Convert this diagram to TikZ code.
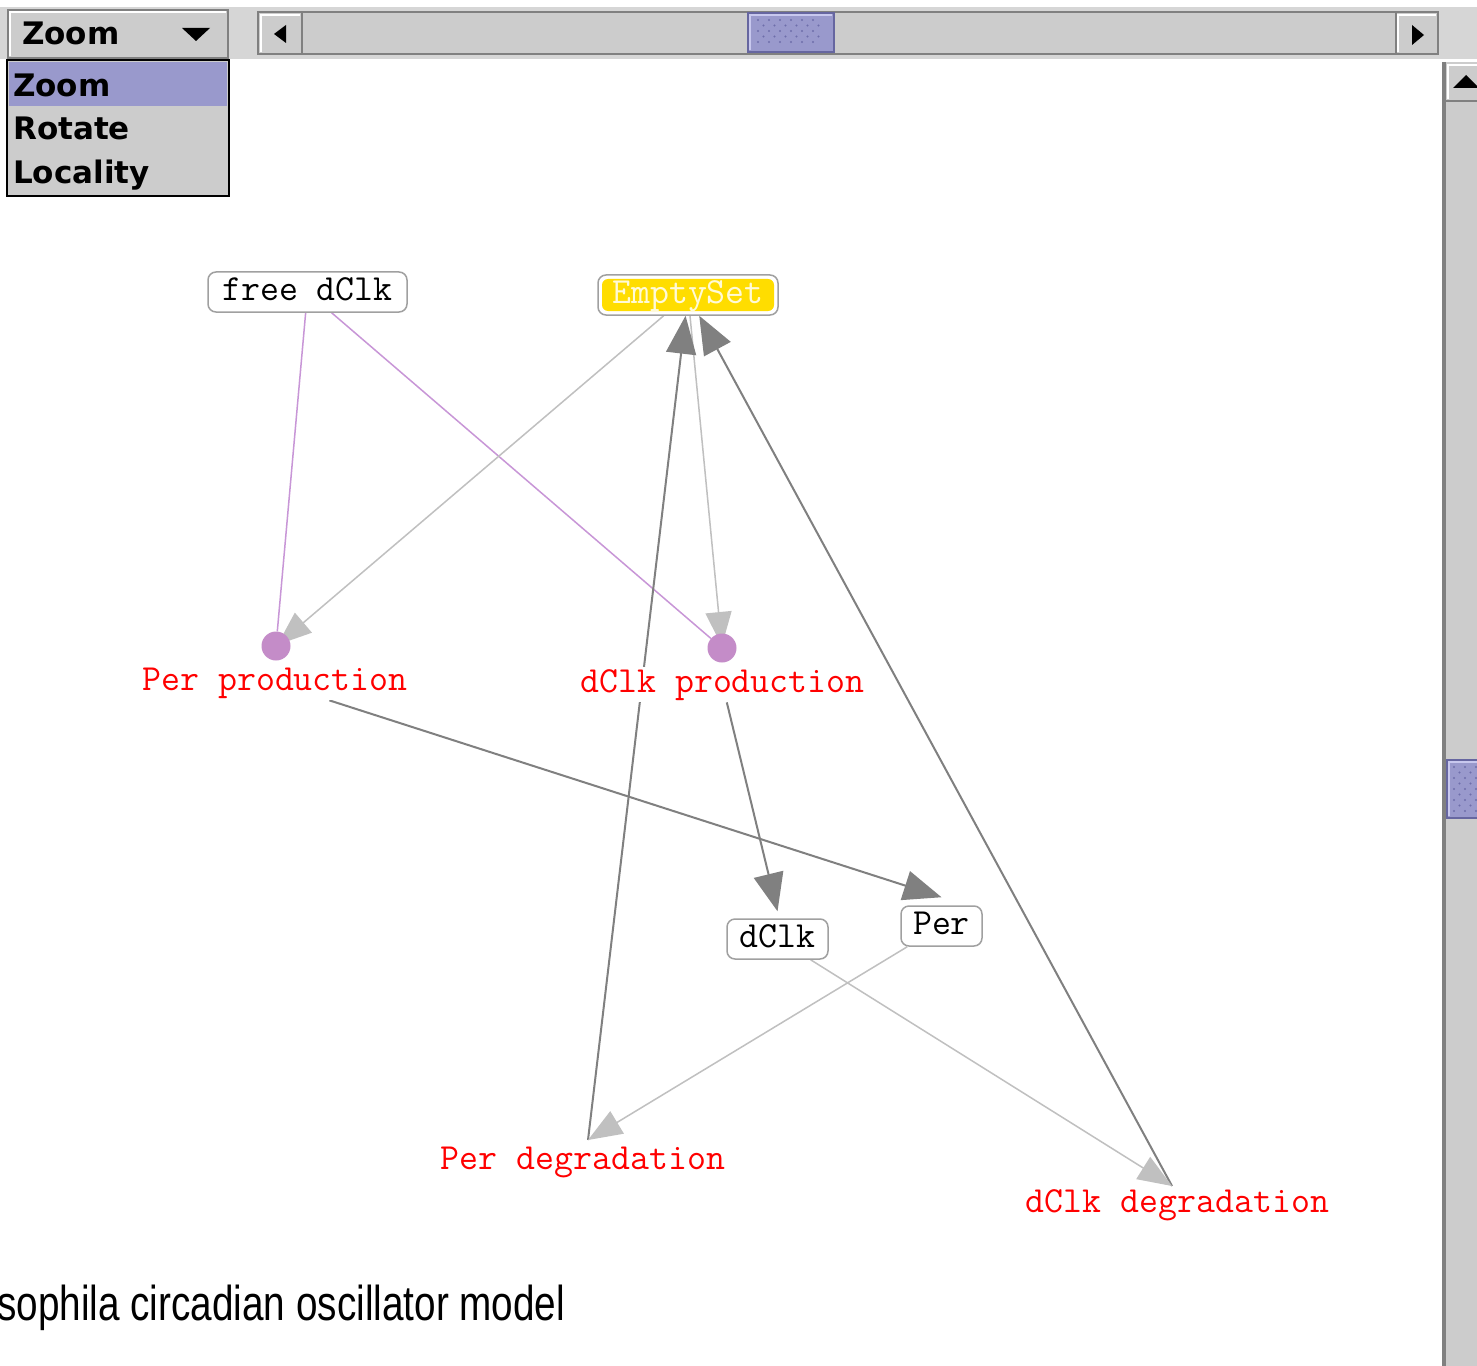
\documentclass[tikz,border=0pt]{standalone}
\usepackage{fontspec}
\usetikzlibrary{arrows.meta}
\newfontfamily\uifont{DejaVu Sans}
\newfontfamily\capfont[FakeStretch=0.79]{Liberation Sans}
\newcommand{\monolabel}{\ttfamily\fontsize{36.8bp}{44bp}\selectfont}
\newcommand{\uilabel}{\uifont\bfseries\fontsize{31bp}{36bp}\selectfont}
\definecolor{uigray}{RGB}{204,204,204}
\definecolor{bandgray}{RGB}{214,214,214}
\definecolor{selblue}{RGB}{153,153,204}
\definecolor{selborder}{RGB}{102,102,160}
\definecolor{selhi}{RGB}{200,200,238}
\definecolor{dotblue}{RGB}{110,110,170}
\definecolor{edgedark}{RGB}{128,128,128}
\definecolor{edgelight}{RGB}{192,192,192}
\definecolor{edgepurple}{RGB}{200,150,215}
\definecolor{circpurple}{RGB}{196,140,200}
\definecolor{boxborder}{RGB}{160,160,160}
\definecolor{esyellow}{RGB}{255,221,0}
\definecolor{estext}{RGB}{255,250,215}
\definecolor{labelred}{RGB}{255,0,0}
\pgfdeclarelayer{bg}
\pgfdeclarelayer{edges}
\pgfsetlayers{bg,edges,main}
\tikzset{
  species/.style={draw=boxborder, line width=1.5bp, fill=white, rounded corners=8bp,
    font=\monolabel, text height=22bp, text depth=6bp, inner xsep=0bp, inner ysep=6bp,
    minimum height=40bp},
  reaction/.style={circle, fill=circpurple, minimum size=29bp, inner sep=0bp},
  rlabel/.style={font=\monolabel, text=labelred, fill=white, inner sep=2bp, anchor=base},
  darkedge/.style={draw=edgedark, line width=2bp, -{Triangle[length=38bp,width=30bp]}},
  lightedge/.style={draw=edgelight, line width=1.5bp, -{Triangle[length=34bp,width=26bp]}},
  purpleedge/.style={draw=edgepurple, line width=1.5bp},
  uitext/.style={font=\uilabel, text=black, inner sep=0bp, anchor=base west},
  thumb/.style={fill=selblue, draw=selborder, line width=1.5bp},
}
\begin{document}
\begin{tikzpicture}[x=1bp,y=-1bp]
\clip (0,0) rectangle (1477,1366);
\begin{pgfonlayer}{bg}
\fill[white] (0,0) rectangle (1477,1366);
\end{pgfonlayer}

% ---- top band ----
\fill[bandgray] (0,7) rectangle (1477,59);

% ---- combo box ----
\fill[uigray] (9,11) rectangle (227,57);
\draw[white, line width=2bp] (10,56) -- (10,12) -- (226,12);
\draw[edgedark, line width=1.5bp] (8,10) rectangle (228,58);
\node[uitext] (cbtext) at (22,45) {Zoom};
\fill[black] (182,28) -- (210,28) -- (196,41) -- cycle;

% ---- dropdown list ----
\fill[uigray] (7,60) rectangle (229,196);
\fill[selblue] (9,62) rectangle (227,106);
\draw[black, line width=2bp] (7,60) rectangle (229,196);
\node[uitext] (itzoom) at (13,97) {Zoom};
\node[uitext] (itrot) at (13,140) {Rotate};
\node[uitext] (itloc) at (13,184) {Locality};

% ---- horizontal scrollbar ----
\fill[uigray] (258,12) rectangle (1438,54);
\draw[edgedark, line width=2bp] (258,12) rectangle (1438,54);
\draw[white, line width=1.5bp] (261,52) -- (261,15) -- (300,15);
\draw[edgedark, line width=2bp] (302,13) -- (302,53);
\fill[black] (286,25) -- (286,43) -- (274,34) -- cycle;
\draw[white, line width=1.5bp] (1398,52) -- (1398,15) -- (1436,15);
\draw[edgedark, line width=2bp] (1396,13) -- (1396,53);
\fill[black] (1412,25) -- (1412,45) -- (1424,35) -- cycle;
\draw[thumb] (748,13) rectangle (834,52);
\draw[selhi, line width=1.5bp] (750,50) -- (750,15) -- (832,15);
\foreach \r in {0,...,4}
  \foreach \c in {0,...,5}
    \fill[dotblue] ({758+\c*11+mod(\r,2)*5.5},{20+\r*5.5}) circle (1.2bp);

% ---- vertical scrollbar ----
\fill[uigray] (1442,62) rectangle (1477,1366);
\draw[edgedark, line width=4bp] (1444,62) -- (1444,1366);
\draw[edgedark, line width=1.5bp] (1446,101) -- (1477,101);
\draw[white, line width=1.5bp] (1448,99) -- (1448,65) -- (1477,65);
\fill[black] (1453,88) -- (1479,88) -- (1466,75) -- cycle;
\draw[thumb] (1447,760) rectangle (1480,818);
\draw[selhi, line width=1.5bp] (1449,816) -- (1449,762) -- (1480,762);
\foreach \r in {0,...,8}
  \foreach \c in {0,...,2}
    \fill[dotblue] ({1454+\c*11+mod(\r,2)*5.5},{767+\r*5.5}) circle (1.2bp);

% ---- species nodes ----
\node[species, minimum width=199bp] (fd) at (307.5,292) {free dClk};
\node[species, minimum width=180bp, text=estext,
  path picture={\fill[esyellow, rounded corners=6bp]
    ([shift={(4bp,-4bp)}]path picture bounding box.north west) rectangle
    ([shift={(-4bp,4bp)}]path picture bounding box.south east);}] (es) at (688,295) {EmptySet};
\node[species, minimum width=101bp] (dclk) at (777.5,939) {dClk};
\node[species, minimum width=81bp] (per) at (941.5,926) {Per};

% ---- reactions ----
\node[reaction] (pp) at (276,646) {};
\node[reaction] (dp) at (722,648) {};
\coordinate (pd) at (588,1140);
\coordinate (dd) at (1172,1186);
\node[rlabel] (ppl) at (275,690) {Per production};
\node[rlabel] (dpl) at (722.5,692) {dClk production};
\node[rlabel] (pdl) at (583,1169) {Per degradation};
\node[rlabel] (ddl) at (1177.5,1212) {dClk degradation};

% ---- edges ----
\begin{pgfonlayer}{edges}
\draw[purpleedge] (fd) -- (pp);
\draw[purpleedge] (fd) -- (dp);
\draw[lightedge, shorten >=2bp] (es) -- (pp.center);
\draw[lightedge, shorten >=2bp] (es) -- (dp.center);
\draw[darkedge] (pd) -- (es);
\draw[darkedge] (dd) -- (es);
\draw[darkedge] (ppl) -- ([yshift=8bp]per.north);
\draw[darkedge] (dpl) -- ([yshift=7bp]dclk.north);
\draw[lightedge] (per) -- (pd);
\draw[lightedge] (dclk) -- (dd);
\end{pgfonlayer}

% ---- caption ----
\node[font=\capfont\fontsize{49bp}{56bp}\selectfont, anchor=base west, inner sep=0bp] (cap)
  at (-3,1320) {sophila circadian oscillator model};
\end{tikzpicture}
\end{document}
